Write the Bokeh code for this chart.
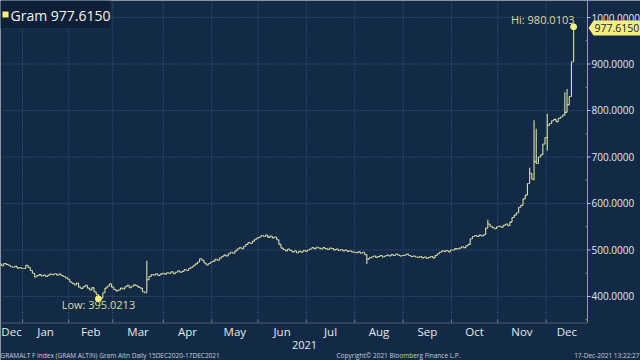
import numpy as np
import pandas as pd
from bokeh.plotting import figure
from bokeh.models import (Range1d, Label, BoxAnnotation, PolyAnnotation, ColumnDataSource)
from bokeh.core.properties import value
from bokeh.embed import file_html
from bokeh.resources import INLINE

# ---------------- data (daily closes) ----------------
start_date = "2020-12-15"
end_date = "2021-12-17"

close_dec20 = [468, 472, 470, 466, 471, 469, 467, 464, 463, 465, 461, 462, 460]
close_jan = [460, 467, 463, 456, 450, 442, 445, 447, 444, 446, 443, 446, 448, 447, 449,
             446, 448, 445, 443, 440, 437]
close_feb = [431, 428, 425, 429, 420, 417, 421, 424, 418, 414, 419, 410, 404, 398, 396,
             408, 418, 422, 427, 420]
close_mar = [415, 412, 414, 418, 416, 421, 424, 419, 422, 425, 423, 420, 418, 410, 408,
             436, 443, 447, 446, 449, 445, 448, 450]
close_apr = [448, 451, 450, 453, 449, 452, 455, 452, 454, 458, 456, 460, 463, 466, 470,
             474, 481, 478, 472, 468, 471, 474]
close_may = [476, 480, 478, 483, 486, 489, 487, 492, 495, 493, 498, 502, 505, 503, 508,
             512, 516, 514, 519, 523, 526]
close_jun = [528, 531, 529, 532, 527, 530, 526, 528, 522, 512, 504, 501, 498, 502, 499,
             496, 498, 494, 497, 495, 499, 497]
close_jul = [500, 502, 505, 503, 506, 504, 502, 505, 503, 501, 504, 503, 500, 502, 499,
             501, 498, 500, 497, 498, 496, 495]
close_aug = [494, 496, 493, 495, 490, 480, 483, 485, 487, 484, 486, 488, 485, 487, 489,
             487, 490, 488, 491, 489, 487, 488]
close_sep = [489, 491, 488, 486, 487, 485, 484, 486, 483, 485, 482, 484, 486, 483, 488,
             492, 495, 498, 497, 499, 496, 500]
close_oct = [500, 503, 502, 504, 507, 505, 509, 512, 524, 529, 531, 529, 532, 530, 533,
             547, 556, 551, 548, 546, 550]
close_nov = [551, 549, 553, 556, 552, 560, 570, 575, 580, 592, 596, 610, 618, 643, 665,
             652, 690, 686, 700, 705, 728, 742]
close_dec21 = [768, 772, 778, 781, 776, 783, 786, 790, 796, 812, 830, 905, 977.615]

# intraday extremes that go beyond the open/close range
spike_high = {"2021-03-22": 477.0, "2021-10-25": 565.0, "2021-11-19": 677.0,
              "2021-11-23": 779.0, "2021-11-24": 761.0, "2021-12-01": 793.0,
              "2021-12-13": 839.0, "2021-12-14": 846.0, "2021-12-17": 980.0103}
spike_low = {"2021-02-18": 395.0213, "2021-08-09": 470.0, "2021-11-23": 650.0,
             "2021-12-01": 714.0}

month_names = ["Dec", "Jan", "Feb", "Mar", "Apr", "May", "Jun", "Jul", "Aug", "Sep",
               "Oct", "Nov", "Dec"]
y_ticks = [400, 500, 600, 700, 800, 900, 1000]
y_minor = [350, 450, 550, 650, 750, 850, 950, 1050]

series_name = "Gram"
last_value = 977.6150
hi_value = 980.0103
lo_value = 395.0213
hi_date = "2021-12-17"
lo_date = "2021-02-18"
year_label = "2021"
footer_texts = ["GRAMALT F Index (GRAM ALTIN) Gram Altn  Daily 15DEC2020-17DEC2021",
                "Copyright\u00a9 2021 Bloomberg Finance L.P.",
                "17-Dec-2021 13:22:27"]

# ---------------- build ----------------
closes = (close_dec20 + close_jan + close_feb + close_mar + close_apr + close_may +
          close_jun + close_jul + close_aug + close_sep + close_oct + close_nov + close_dec21)
dates = pd.bdate_range(start_date, end_date)
assert len(dates) == len(closes)
n = len(closes)
idx = np.arange(n) - len(close_dec20)          # trading-day index, 0 = 1 Jan 2021
date_str = [d.strftime("%Y-%m-%d") for d in dates]
pos = dict(zip(date_str, idx))

closes = np.array(closes, dtype=float)
opens = np.concatenate([[closes[0]], closes[:-1]])
highs = np.maximum(opens, closes)
lows = np.minimum(opens, closes)
for d, v in spike_high.items():
    k = date_str.index(d)
    highs[k] = max(highs[k], v)
for d, v in spike_low.items():
    k = date_str.index(d)
    lows[k] = min(lows[k], v)

src = ColumnDataSource(dict(x=idx, xl=idx - 0.5, xr=idx + 0.5,
                            o=opens, h=highs, l=lows, c=closes))

BG = "#132a47"
BAR = "#dbe1a4"
YEL = "#f3ef7c"
TXT = "#e6e8ec"
GRID = "#506886"
FONT = value("Open Sans")
FONT_NAME = "Open Sans"

# plot area occupies canvas px 0..587 x 0..322; the scales are set so that
# the chart region maps exactly there and the margins are part of the canvas.
PW, PH = 587.0, 322.0
XA, XB = -10.5, 256.3          # index range across the chart region
YA, YB = 344.0, 1036.6         # value range across the chart region
SX = (XB - XA) / PW
SY = (YB - YA) / PH


def px2x(px):
    return XA + px * SX


def py2y(py):
    return YB - py * SY


p = figure(width=640, height=360,
           x_range=Range1d(px2x(0), px2x(640)), y_range=Range1d(py2y(360), py2y(0)),
           x_axis_location=None, y_axis_location=None,
           output_backend="svg", toolbar_location=None,
           background_fill_color=BG, border_fill_color=BG,
           min_border=0, outline_line_color=None)
p.grid.visible = False

XR = px2x(PW)            # right edge of chart region (axis line)
YBOT = py2y(PH)          # bottom edge of chart region

# month boundaries / centres from the dates
months = np.array([d.month for d in dates])
change = [i for i in range(1, n) if months[i] != months[i - 1]]
bounds = [float(idx[i]) - 0.5 for i in change]
edges = [XA] + bounds + [XR]
mids = [(edges[i] + edges[i + 1]) / 2 for i in range(len(edges) - 1)]

# grid
p.segment(x0=bounds, x1=bounds, y0=[YBOT] * len(bounds), y1=[YB] * len(bounds),
          line_color=GRID, line_dash="1 2", line_alpha=0.9)
p.segment(x0=[XA] * len(y_ticks), x1=[XR] * len(y_ticks), y0=y_ticks, y1=y_ticks,
          line_color=GRID, line_dash="1 2", line_alpha=0.9)

# bottom axis: line, boundary ticks, month labels
p.segment(x0=[XA], x1=[XR], y0=[py2y(PH + 0.5)], y1=[py2y(PH + 0.5)],
          line_color="#4a5d78", line_width=1)
p.segment(x0=bounds, x1=bounds, y0=[py2y(PH)] * len(bounds),
          y1=[py2y(PH - 3)] * len(bounds), line_color="#6b7c94")
p.text(x=mids, y=[py2y(331)] * len(mids), text=month_names, text_align="center",
       text_baseline="middle", text_color=TXT, text_font=FONT, text_font_size="11.5px")
p.text(x=[px2x(304)], y=[py2y(344)], text=[year_label], text_align="center",
       text_baseline="middle", text_color=TXT, text_font=FONT, text_font_size="11px")
p.text(x=[px2x(0), px2x(336)], y=[py2y(355)] * 2, text=footer_texts[:2],
       text_align="left", text_baseline="middle", text_color="#c9cdd5",
       text_font=FONT, text_font_size="6.5px")
p.text(x=[px2x(639)], y=[py2y(355)], text=footer_texts[2:],
       text_align="right", text_baseline="middle", text_color="#c9cdd5",
       text_font=FONT, text_font_size="6.5px")

# right axis: line, ticks, labels
p.segment(x0=[XR], x1=[XR], y0=[YBOT], y1=[YB], line_color="#a3a455", line_width=1)
p.segment(x0=[XR] * len(y_ticks), x1=[px2x(PW + 3)] * len(y_ticks), y0=y_ticks,
          y1=y_ticks, line_color="#c4c8cc")
p.segment(x0=[px2x(PW - 2)] * len(y_minor), x1=[XR] * len(y_minor), y0=y_minor,
          y1=y_minor, line_color="#8c9466")
p.text(x=[px2x(PW + 4)] * len(y_ticks), y=y_ticks, text=[f"{v:.4f}" for v in y_ticks],
       text_align="left", text_baseline="middle", text_color=TXT, text_font=FONT,
       text_font_size="10px")

# OHLC bars
p.segment(x0="x", x1="x", y0="l", y1="h", source=src, line_color=BAR, line_width=1.1)
p.segment(x0="xl", x1="x", y0="o", y1="o", source=src, line_color=BAR, line_width=1.1)
p.segment(x0="x", x1="xr", y0="c", y1="c", source=src, line_color=BAR, line_width=1.1)

# Hi / Low markers
p.scatter([pos[hi_date], pos[lo_date]], [hi_value, lo_value], size=6,
          fill_color=YEL, line_color=YEL)
p.add_layout(Label(x=px2x(574), y=py2y(19), text=f"Hi: {hi_value:.4f}",
                   text_align="right", text_baseline="middle", text_color="#d9dc9c",
                   text_font=FONT_NAME, text_font_size="11px"))
p.add_layout(Label(x=pos[lo_date], y=py2y(304), text=f"Low: {lo_value:.4f}",
                   text_align="center", text_baseline="middle", text_color="#d9dc9c",
                   text_font=FONT_NAME, text_font_size="11px"))

# legend box
p.add_layout(BoxAnnotation(left=px2x(0), right=px2x(110), top=py2y(0), bottom=py2y(28),
                           fill_color="#0e2038", fill_alpha=1.0,
                           line_color="#2f4562", line_width=1))
p.add_layout(BoxAnnotation(left=px2x(2), right=px2x(8), top=py2y(11), bottom=py2y(17),
                           fill_color=YEL, fill_alpha=1.0, line_color=None))
p.add_layout(Label(x=px2x(10), y=py2y(15), text=f"{series_name} {last_value:.4f}",
                   text_align="left", text_baseline="middle", text_color="#f2f3f5",
                   text_font=FONT_NAME, text_font_size="14px"))

# last price tag on the right axis
hh = 7.5 * SY
p.add_layout(PolyAnnotation(xs=[px2x(588), px2x(593), px2x(642), px2x(642), px2x(593)],
                            ys=[last_value, last_value + hh, last_value + hh,
                                last_value - hh, last_value - hh],
                            fill_color=YEL, fill_alpha=1.0, line_color=None))
p.add_layout(Label(x=px2x(594), y=last_value, text=f"{last_value:.4f}",
                   text_align="left", text_baseline="middle", text_color="#15223a",
                   text_font=FONT_NAME, text_font_size="10.5px"))

open("out.html", "w").write(file_html(p, INLINE))
